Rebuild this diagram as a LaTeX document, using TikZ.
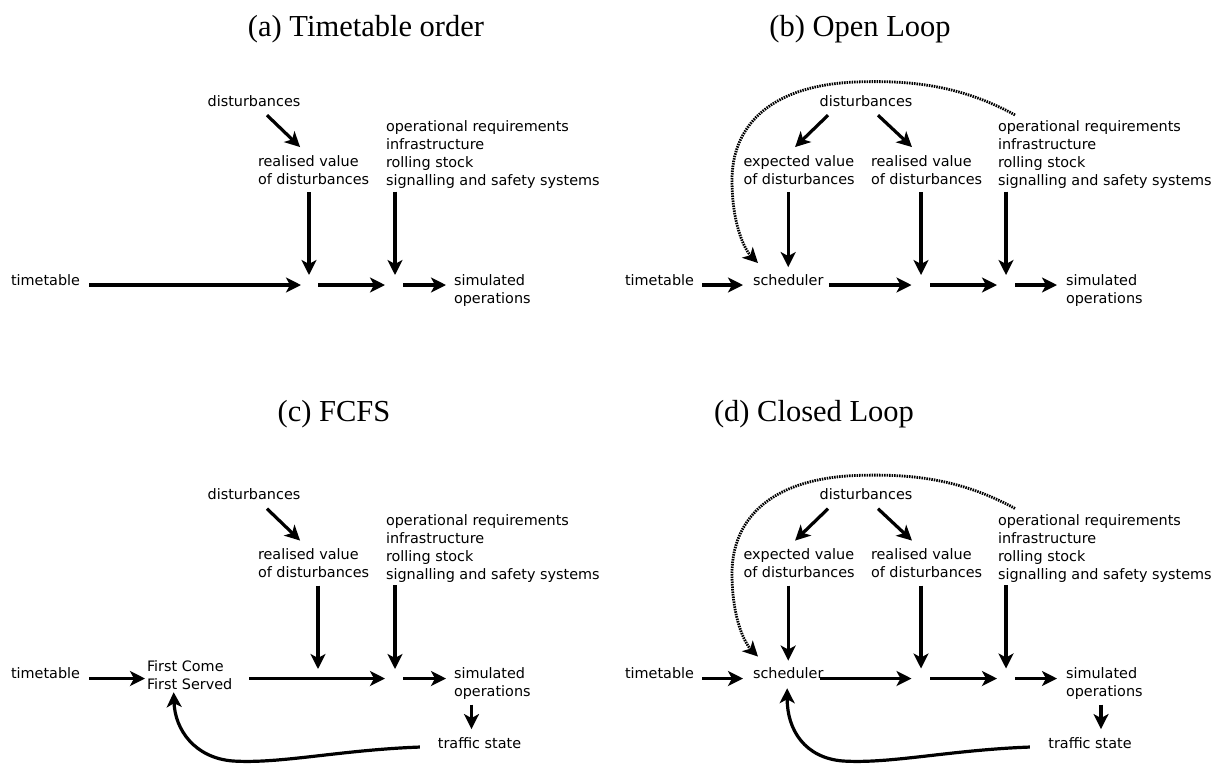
\documentclass[tikz,border=0pt]{standalone}
\usepackage{fontspec}
\setmainfont{DejaVu Sans}
\newfontfamily\ttlfont{Liberation Serif}
\usetikzlibrary{arrows.meta}
\tikzset{
  lbl/.style={inner sep=0pt, outer sep=0pt, align=left, font=\fontsize{14.4}{18}\selectfont},
  ttl/.style={inner sep=0pt, anchor=base, font=\ttlfont\fontsize{30.5}{36}\selectfont},
  arr/.style={line width=3.2pt, -{Stealth[length=15pt,width=15pt,inset=4pt]}},
  dotarr/.style={line width=2.8pt, dash pattern=on 1.5pt off 1pt, -{Stealth[length=15pt,width=15pt,inset=4pt]}},
}
\begin{document}
\begin{tikzpicture}[x=1pt,y=-1pt]
\useasboundingbox (0,0) rectangle (1223,764);

% ---------------- (a) ----------------
\node[ttl] (a-title) at (366,36) {(a) Timetable order};
\node[lbl, anchor=base] (a-dist) at (254,106) {disturbances};
\node[lbl, anchor=base west] (a-rv) at (258,184) {realised value\\of disturbances};
\node[lbl, anchor=base west] (a-ops) at (386,185.5) {operational requirements\\infrastructure\\rolling stock\\signalling and safety systems};
\node[lbl, anchor=base west] (a-tt) at (11,285) {timetable};
\node[lbl, anchor=base west] (a-sim) at (454,303) {simulated\\operations};
\coordinate (a-j1) at (309,285);
\coordinate (a-j2) at (395,285);
\draw[arr] ([xshift=13pt,yshift=-9pt]a-dist.south) -- ([xshift=-13.5pt,yshift=8pt]a-rv.north);
\draw[arr, shorten <=8pt, shorten >=10pt] (a-j1 |- a-rv.south) -- (a-j1);
\draw[arr, shorten <=3pt, shorten >=10pt] (a-j2 |- a-ops.south) -- (a-j2);
\draw[arr, shorten <=9pt, shorten >=8pt] (a-tt.base east) -- (a-j1);
\draw[arr, shorten <=9pt, shorten >=10pt] (a-j1) -- (a-j2);
\draw[arr, shorten <=8pt, shorten >=8pt] (a-j2) -- (a-sim.west |- a-j2);

% ---------------- (b) ----------------
\node[ttl] (b-title) at (860,36) {(b) Open Loop};
\node[lbl, anchor=base] (b-dist) at (866,106) {disturbances};
\node[lbl, anchor=base west] (b-ev) at (743.5,184) {expected value\\of disturbances};
\node[lbl, anchor=base west] (b-rv) at (871,184) {realised value\\of disturbances};
\node[lbl, anchor=base west] (b-ops) at (998,185.5) {operational requirements\\infrastructure\\rolling stock\\signalling and safety systems};
\node[lbl, anchor=base west] (b-tt) at (625,285) {timetable};
\node[lbl, anchor=base west] (b-sch) at (753,285) {scheduler};
\node[lbl, anchor=base west] (b-sim) at (1066,303) {simulated\\operations};
\coordinate (b-j1) at (921,285);
\coordinate (b-j2) at (1006,285);
\draw[arr] ([xshift=-38pt,yshift=-9pt]b-dist.south) -- ([xshift=-4pt,yshift=8pt]b-ev.north);
\draw[arr] ([xshift=12pt,yshift=-9pt]b-dist.south) -- ([xshift=-14.6pt,yshift=8pt]b-rv.north);
\draw[arr, shorten <=8pt, shorten >=7pt] (b-sch.north |- b-ev.south) -- (b-sch.north);
\draw[arr, shorten <=8pt, shorten >=10pt] (b-j1 |- b-rv.south) -- (b-j1);
\draw[arr, shorten <=3pt, shorten >=10pt] (b-j2 |- b-ops.south) -- (b-j2);
\draw[arr, shorten <=8pt, shorten >=10pt] (b-tt.base east) -- (b-sch.base west);
\draw[arr, shorten <=5.5pt, shorten >=9.5pt] (b-sch.base east) -- (b-j1);
\draw[arr, shorten <=9pt, shorten >=9pt] (b-j1) -- (b-j2);
\draw[arr, shorten <=9pt, shorten >=9pt] (b-j2) -- (b-sim.west |- b-j2);
\draw[dotarr] ([xshift=17pt,yshift=5.6pt]b-ops.north west) .. controls (960,85) and (910,80) .. (855,82)
  .. controls (765,86) and (732,130) .. (732,180)
  .. controls (732,225) and (745,250) .. ([xshift=5pt,yshift=11pt]b-sch.north west);

% ---------------- (c) ----------------
\node[ttl] (c-title) at (334,421) {(c) FCFS};
\node[lbl, anchor=base] (c-dist) at (254,499.5) {disturbances};
\node[lbl, anchor=base west] (c-rv) at (258,577.5) {realised value\\of disturbances};
\node[lbl, anchor=base west] (c-ops) at (386,579) {operational requirements\\infrastructure\\rolling stock\\signalling and safety systems};
\node[lbl, anchor=base west] (c-tt) at (11,678.5) {timetable};
\node[lbl, anchor=base west] (c-fc) at (147,689) {First Come\\First Served};
\node[lbl, anchor=base west] (c-sim) at (454,696.5) {simulated\\operations};
\node[lbl, anchor=base] (c-ts) at (479.5,748) {traffic state};
\coordinate (c-j1) at (318,678.5);
\coordinate (c-j2) at (395,678.5);
\draw[arr] ([xshift=13pt,yshift=-9pt]c-dist.south) -- ([xshift=-13.5pt,yshift=8pt]c-rv.north);
\draw[arr, shorten <=8pt, shorten >=9.5pt] (c-j1 |- c-rv.south) -- (c-j1);
\draw[arr, shorten <=3pt, shorten >=9.5pt] (c-j2 |- c-ops.south) -- (c-j2);
\draw[arr, shorten <=9pt, shorten >=2pt] (c-tt.base east) -- (c-fc.west |- c-tt.base east);
\draw[arr, shorten <=17pt, shorten >=10pt] (c-fc.east |- c-j2) -- (c-j2);
\draw[arr, shorten <=8pt, shorten >=8pt] (c-j2) -- (c-sim.west |- c-j2);
\draw[arr, shorten <=5pt, shorten >=8pt] ([xshift=-8pt]c-ts.north |- c-sim.south) -- ([xshift=-8pt]c-ts.north);
\draw[arr] ([xshift=-18pt,yshift=-4.4pt]c-ts.west) .. controls (340,750) and (280,764) .. (233,761)
  .. controls (195,758) and (175,730) .. ([xshift=-16pt,yshift=-3pt]c-fc.south);

% ---------------- (d) ----------------
\node[ttl] (d-title) at (814,421) {(d) Closed Loop};
\node[lbl, anchor=base] (d-dist) at (866,499.5) {disturbances};
\node[lbl, anchor=base west] (d-ev) at (743.5,577.5) {expected value\\of disturbances};
\node[lbl, anchor=base west] (d-rv) at (871,577.5) {realised value\\of disturbances};
\node[lbl, anchor=base west] (d-ops) at (998,579) {operational requirements\\infrastructure\\rolling stock\\signalling and safety systems};
\node[lbl, anchor=base west] (d-tt) at (625,678.5) {timetable};
\node[lbl, anchor=base west] (d-sch) at (753,678.5) {scheduler};
\node[lbl, anchor=base west] (d-sim) at (1066,696.5) {simulated\\operations};
\node[lbl, anchor=base] (d-ts) at (1090,748) {traffic state};
\coordinate (d-j1) at (921,678.5);
\coordinate (d-j2) at (1006,678.5);
\draw[arr] ([xshift=-38pt,yshift=-9pt]d-dist.south) -- ([xshift=-4pt,yshift=8pt]d-ev.north);
\draw[arr] ([xshift=12pt,yshift=-9pt]d-dist.south) -- ([xshift=-14.6pt,yshift=8pt]d-rv.north);
\draw[arr, shorten <=8pt, shorten >=7pt] (d-sch.north |- d-ev.south) -- (d-sch.north);
\draw[arr, shorten <=8pt, shorten >=10pt] (d-j1 |- d-rv.south) -- (d-j1);
\draw[arr, shorten <=3pt, shorten >=10pt] (d-j2 |- d-ops.south) -- (d-j2);
\draw[arr, shorten <=8pt, shorten >=10pt] (d-tt.base east) -- (d-sch.base west);
\draw[arr, shorten <=-3pt, shorten >=9.5pt] (d-sch.base east) -- (d-j1);
\draw[arr, shorten <=9pt, shorten >=9pt] (d-j1) -- (d-j2);
\draw[arr, shorten <=9pt, shorten >=9pt] (d-j2) -- (d-sim.west |- d-j2);
\draw[arr, shorten <=5pt, shorten >=8pt] ([xshift=11pt]d-ts.north |- d-sim.south) -- ([xshift=11pt]d-ts.north);
\draw[dotarr] ([xshift=17pt,yshift=5.6pt]d-ops.north west) .. controls (960,478.5) and (910,473.5) .. (855,475.5)
  .. controls (765,479.5) and (732,523.5) .. (732,573.5)
  .. controls (732,618.5) and (745,643.5) .. ([xshift=5pt,yshift=11pt]d-sch.north west);
\draw[arr] ([xshift=-18.5pt,yshift=-4.4pt]d-ts.west) .. controls (950,750) and (890,764) .. (843,761)
  .. controls (805,758) and (787,730) .. ([xshift=-1pt,yshift=-9.5pt]d-sch.south);
\end{tikzpicture}
\end{document}
